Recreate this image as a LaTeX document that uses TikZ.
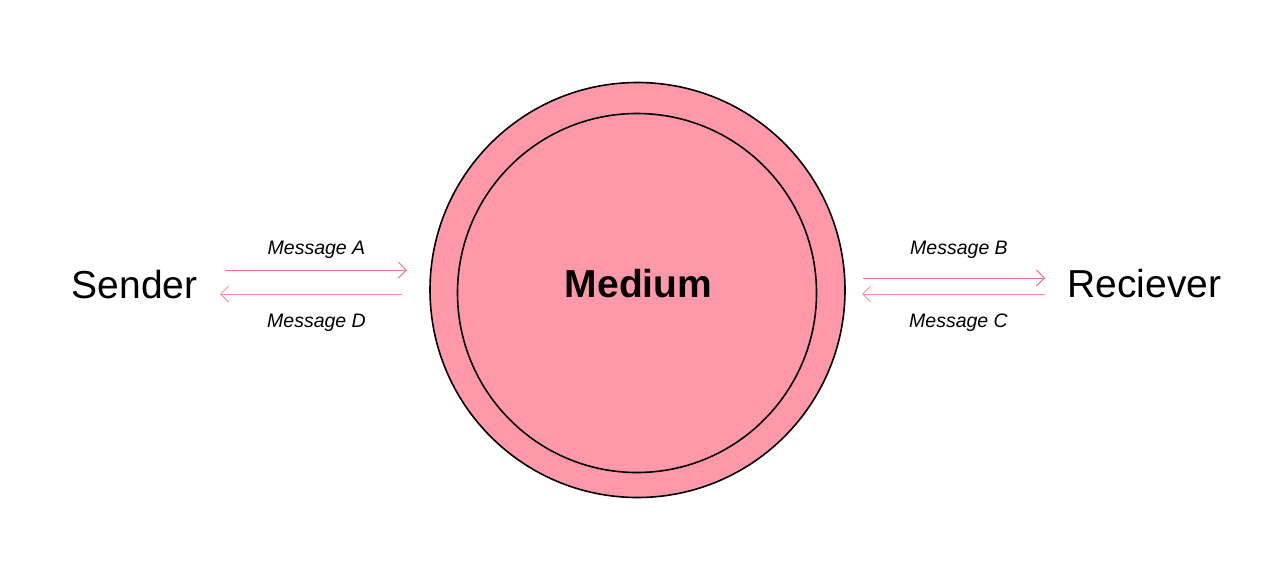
\documentclass[tikz,border=0pt]{standalone}
\usepackage{fontspec}
\setmainfont{Liberation Sans}
\usetikzlibrary{arrows.meta}
\definecolor{mediumpink}{HTML}{FF99AA}
\definecolor{msgred}{HTML}{FF6F7F}
\definecolor{msgpale}{HTML}{FF909C}
\begin{document}
\begin{tikzpicture}
		[	x=1pt,y=-1pt,
		ring/.style={circle,draw=black,line width=1.6pt,fill=mediumpink,inner sep=0pt},
		party/.style={anchor=base,inner sep=0pt,font=\fontsize{39}{40}\selectfont},
		msg/.style={anchor=base,inner sep=0pt,font=\fontsize{19.5}{20}\selectfont\itshape},
		flow/.style={-{Straight Barb[length=8pt,width=16pt]},line width=1pt}
		]
		\useasboundingbox (0,0) rectangle (1280,574);
		\node[ring,minimum size=415pt] (outer) at (637.5,290){};
		\node[ring,minimum size=359pt] (core) at (637,293){};
		\node[party,font=\fontsize{39}{40}\selectfont\bfseries] (medium) at (638.5,297){Medium};
		\node[party] (sender) at (134.5,298){Sender};
		\node[party] (reciever) at (1144.5,297){Reciever};
\coordinate (a1) at (225,270); \coordinate (a2) at (407,270);
\coordinate (d1) at (402,294); \coordinate (d2) at (220,294);
\coordinate (b1) at (863,278); \coordinate (b2) at (1045,278);
\coordinate (c1) at (1045,294); \coordinate (c2) at (862,294);
		\draw[flow,msgred] (a1) -- (a2);
		\draw[flow,msgpale] (d1) -- (d2);
		\draw[flow,msgred] (b1) -- (b2);
		\draw[flow,msgpale] (c1) -- (c2);
\node[msg] (msgA) at (316.5,254){Message A};
\node[msg] (msgD) at (316.5,327){Message D};
\node[msg] (msgB) at (959,254){Message B};
\node[msg] (msgC) at (958.5,327){Message C};
	\end{tikzpicture}
\end{document}
